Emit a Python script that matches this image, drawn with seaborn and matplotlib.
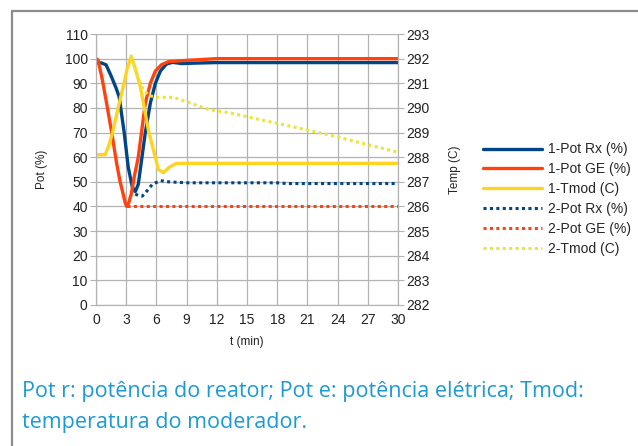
import matplotlib
matplotlib.use('Agg')
import matplotlib.pyplot as plt
import seaborn as sns
import pandas as pd
from matplotlib.lines import Line2D

# data (t in min)
t_rx1 = [0, 0.5, 1.0, 1.5, 2.0, 2.3, 2.8, 3.2, 3.6, 3.9, 4.2, 4.4, 4.9, 5.4, 5.9, 6.4, 7.0, 7.6, 8.5, 10, 12, 30]
rx1 = [98.3, 98.3, 97.5, 93, 88, 84.5, 70, 56, 48, 46, 49, 55, 70, 82, 90, 95, 97.8, 98.5, 98, 98.2, 98.4, 98.4]

t_ge1 = [0, 0.2, 0.6, 1.05, 1.6, 2.05, 2.4, 2.7, 2.9, 3.05, 3.25, 3.5, 3.8, 4.2, 4.9, 5.4, 5.9, 6.5, 7.2, 9, 12, 30]
ge1 = [100, 99.5, 92, 82, 69, 57.5, 50, 45, 41.5, 40, 41.5, 45, 52, 60, 82, 90, 95, 97.5, 98.8, 99.3, 100, 100]

t_tm1 = [0, 0.9, 1.3, 1.7, 2.2, 2.7, 3.1, 3.5, 3.9, 4.4, 4.8, 5.2, 5.7, 6.2, 6.7, 7.3, 8.0, 30]
tm1 = [288.1, 288.1, 288.5, 289.1, 290.0, 290.86, 291.6, 292.1, 291.6, 290.86, 290.0, 289.1, 288.3, 287.5, 287.37, 287.6, 287.75, 287.75]

t_rx2 = [3.9, 4.2, 4.6, 5.0, 5.6, 6.4, 7.2, 9, 18, 19, 30]
rx2 = [45, 44.5, 44.2, 46, 49, 50.5, 50, 49.6, 49.6, 49.3, 49.3]

t_ge2 = [3.05, 30]
ge2 = [40, 40]

t_tm2 = [3.5, 4.0, 4.7, 5.3, 6.0, 7.7, 9, 11.3, 13.3, 16, 18.3, 23.2, 30]
tm2 = [292.1, 291.4, 290.73, 290.5, 290.43, 290.43, 290.25, 289.92, 289.8, 289.55, 289.35, 288.9, 288.2]

labels = ['1-Pot Rx (%)', '1-Pot GE (%)', '1-Tmod (C)', '2-Pot Rx (%)', '2-Pot GE (%)', '2-Tmod (C)']
blue = '#004586'
red = '#ff420e'
yellow = '#ffd320'
lemon = '#ece43a'
caption = 'Pot r: potência do reator; Pot e: potência elétrica; Tmod:\ntemperatura do moderador.'

sns.set_style('white')
plt.rcParams['font.family'] = ['Liberation Sans', 'DejaVu Sans']

fig = plt.figure(figsize=(6.38, 4.46), dpi=100)
ax = fig.add_axes([96 / 638, 1 - 305 / 446, 302 / 638, 271 / 446])
ax2 = ax.twinx()

dot = (0, (1, 1.1))
sns.lineplot(x=t_rx1, y=rx1, ax=ax, color=blue, lw=2.4, label=labels[0], legend=False)
sns.lineplot(x=t_ge1, y=ge1, ax=ax, color=red, lw=2.4, label=labels[1], legend=False)
sns.lineplot(x=t_tm1, y=tm1, ax=ax2, color=yellow, lw=2.4, label=labels[2], legend=False)
sns.lineplot(x=t_rx2, y=rx2, ax=ax, color=blue, lw=2.2, linestyle=dot, label=labels[3], legend=False)
sns.lineplot(x=t_ge2, y=ge2, ax=ax, color=red, lw=2.2, linestyle=dot, label=labels[4], legend=False)
sns.lineplot(x=t_tm2, y=tm2, ax=ax2, color=lemon, lw=2.2, linestyle=dot, label=labels[5], legend=False)

ax.set_xlim(0, 30)
ax.set_ylim(0, 110)
ax.set_xticks(range(0, 31, 3))
ax.set_yticks(range(0, 111, 10))
ax2.set_ylim(282, 293)
ax2.set_yticks(range(282, 294))
ax.grid(True, color='#b3b3b3', lw=0.9)
ax.set_axisbelow(True)

for a in (ax, ax2):
    for s in a.spines.values():
        s.set_color('#b3b3b3')
    a.tick_params(length=4, color='#b3b3b3', labelsize=10, labelcolor='#222222', pad=2)
ax.spines['top'].set_visible(False)
ax2.spines['top'].set_visible(False)

ax.set_xlabel('t (min)', fontsize=8.5, color='#222222', labelpad=6)
ax.set_ylabel('Pot (%)', fontsize=8.5, color='#222222', labelpad=12)
ax2.set_ylabel('Temp (C)', fontsize=8.5, color='#222222', labelpad=14)

h1, l1 = ax.get_legend_handles_labels()
h2, l2 = ax2.get_legend_handles_labels()
hmap = dict(zip(l1 + l2, h1 + h2))
fig.legend([hmap[l] for l in labels], labels, loc='center left',
           bbox_to_anchor=(470 / 638, 1 - 199 / 446), frameon=False,
           fontsize=10, handlelength=4.3, labelspacing=0.42, handletextpad=0.45)

# open frame (top and left)
fig.add_artist(Line2D([12 / 638, 1], [1 - 10.5 / 446] * 2, color='#8c8c8c', lw=1.6))
fig.add_artist(Line2D([12 / 638] * 2, [0, 1 - 10.5 / 446], color='#8c8c8c', lw=1.6))

fig.text(22 / 638, 1 - 407 / 446, caption, fontsize=15.5, color='#1b9ad6',
         family=['Open Sans', 'DejaVu Sans'], va='center', linespacing=1.6)

fig.savefig('out.png', dpi=100)
